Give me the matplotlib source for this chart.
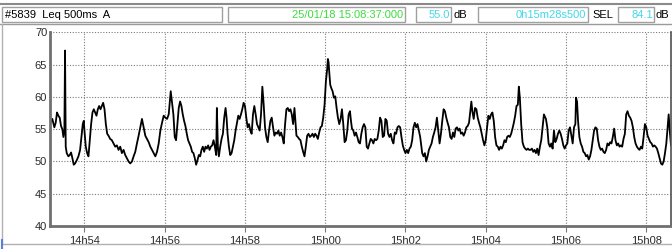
import numpy as np
import pandas as pd
import matplotlib
matplotlib.use("Agg")
import matplotlib.pyplot as plt
import matplotlib.dates as mdates
from matplotlib.patches import Rectangle
from matplotlib.lines import Line2D

# --- Dados (segundos após 14:53:00, nível Leq em dB) ---
t_sec = [
    8.5, 9, 12, 15, 17, 19, 21, 23, 25, 27, 28.5, 30, 31, 32, 33.5, 36, 38, 40, 42, 44, 46, 48.5,
    51, 53.5, 56, 57.5, 59, 60, 62, 64, 66, 68, 70, 72, 74, 76, 78, 80, 82, 84, 86, 88, 90, 92,
    94, 96, 98.5, 101, 103.5, 106, 108.5, 111, 113.5, 116, 118.5, 121, 123.5, 126, 128.5, 131,
    133.5, 136, 138.5, 141, 143.5, 146, 148.5, 151, 153.5, 156, 158.5, 161, 163.5, 166, 168.5,
    171, 173.5, 176, 178.5, 181, 183.5, 186, 189,
    193, 195, 197, 199, 201, 203, 205, 207, 209, 211, 213, 215, 217, 219, 221, 223, 225, 227,
    229, 231, 233, 235, 237, 239, 241, 243, 245, 247, 249, 251, 253, 255, 257, 258, 259.5, 261,
    263, 265, 267, 269, 271, 272.5, 274, 276, 278, 280, 282, 284, 286, 288, 290, 292, 294, 296,
    298, 300, 302, 304, 306, 308, 310, 312, 314, 316, 318, 320, 322, 324, 326, 328, 330, 332,
    334, 336, 338, 340, 342, 344, 346, 348, 350, 352, 354, 356, 358, 360, 362, 364, 366, 368,
    370, 372, 374,
    377, 379, 381, 383, 385, 387, 389, 391, 393, 395, 397, 399, 401, 403, 405, 407, 409, 411,
    413, 415, 417, 419, 421, 423, 424, 425, 426, 427.5, 429, 431, 433, 435, 437, 439, 441, 443,
    445, 447, 449, 451, 453, 455, 457, 458.5, 460, 462, 464, 466, 468, 470, 472, 474, 476, 478,
    480, 482, 484, 486, 488, 490, 492, 494, 496, 498, 500, 502, 504, 506, 508, 510, 512, 514,
    516, 518, 520, 522, 524, 526, 528, 530, 532, 534, 536, 538, 540, 542, 544, 546, 548, 550,
    552, 554, 556, 558, 560, 562,
    565, 567, 569, 571, 573, 575, 577, 579, 581, 583, 585, 587, 589, 591, 593, 595, 597, 599,
    601, 603, 605, 607, 609, 611, 613, 615, 617, 619, 621, 623, 625, 627, 629, 631, 633, 635,
    637, 638.5, 640, 642, 644, 646, 648, 650, 652, 654, 656, 658, 660, 662, 664, 666, 668, 670,
    672, 674, 676, 678, 680, 682, 684, 686, 688, 690, 692, 694, 696, 698, 700, 702, 704, 706,
    708, 709.5, 711, 713, 715, 717, 719, 721, 723, 725, 727, 729, 731, 733, 735, 737, 739, 741,
    743, 745, 747,
    750, 752, 754, 756, 758, 760, 762, 764, 766, 768, 770, 772, 774, 776, 778, 780, 782, 784,
    786, 788, 790, 792, 794, 795, 796.5, 798, 800, 802, 804, 806, 808, 810, 812, 814, 816, 818,
    820, 822, 824, 826, 828, 830, 832, 834, 836, 838, 840, 842, 844, 846, 848, 850, 852, 854,
    856, 858, 860, 862, 864, 866, 868, 870, 872, 874, 876, 878, 880, 882, 884, 886, 888, 890,
    892, 894, 896, 898, 900, 902, 904, 906, 908, 910, 912, 914, 916, 918, 920, 922, 924, 926,
    928, 930, 932, 933.5, 935, 937,
]
leq_db = [
    56.0, 56.0, 56.6, 55.3, 56.0, 57.6, 57.1, 56.8, 55.5, 55.0, 53.8, 54.8, 67.2, 52.3, 51.3, 50.8, 51.0, 51.4, 50.5, 49.5, 49.7, 50.2,
    50.8, 51.8, 54.3, 55.8, 56.3, 54.8, 52.3, 51.3, 50.8, 53.3, 55.8, 57.6, 58.1, 57.6, 57.1, 58.1, 58.6, 58.1, 58.6, 59.1, 58.1, 55.8,
    54.3, 54.0, 53.5, 53.3, 52.8, 52.3, 52.5, 51.8, 52.3, 51.3, 51.8, 51.0, 50.5, 50.0, 49.7, 50.0,
    50.8, 51.5, 52.8, 54.0, 55.3, 56.6, 55.3, 54.0, 53.5, 53.0, 52.3, 51.8, 51.3, 50.8, 51.5,
    52.8, 54.8, 56.0, 57.1, 56.8, 56.6, 57.3, 60.9,
    57.3, 53.8, 53.3, 55.8, 58.3, 59.3, 58.6, 57.3, 56.3, 55.5, 54.3, 53.3, 52.8, 52.3, 51.5, 51.3, 50.5, 49.5,
    50.2, 51.0, 50.8, 51.8, 52.3, 51.5, 52.3, 52.0, 52.5, 51.8, 52.3, 52.5, 53.3, 52.3, 51.0, 58.3, 52.3, 50.8,
    52.3, 53.5, 54.3, 56.8, 58.3, 56.8, 54.3, 52.3, 51.0, 51.3, 52.3, 53.3, 54.8, 56.0, 57.1, 56.6, 57.3, 58.1,
    59.1, 58.6, 56.8, 55.3, 55.8, 54.8, 54.3, 57.3, 58.6, 57.3, 55.8, 55.3, 54.8, 57.3, 61.6, 58.8, 55.3, 53.8,
    53.0, 54.8, 56.3, 56.8, 55.3, 54.0, 54.5, 54.3, 54.8, 54.0, 54.5, 53.8, 52.8, 55.8, 58.1, 58.3, 57.8, 58.1,
    57.3, 55.8, 58.3,
    54.0, 53.8, 53.5, 53.3, 52.3, 51.5, 50.8, 52.3, 54.0, 54.3, 53.8, 54.0, 54.3, 53.8, 54.3, 54.0, 53.5, 54.5,
    55.3, 55.5, 56.8, 58.8, 62.4, 64.4, 65.9, 65.4, 63.9, 61.9, 61.4, 60.9, 59.9, 60.1, 58.3, 56.8, 55.8, 56.6,
    58.1, 55.8, 53.0, 53.3, 54.8, 57.3, 57.8, 56.3, 55.1, 54.8, 54.0, 54.5, 53.8, 53.0, 52.8, 54.3, 55.3, 55.8,
    55.3, 52.3, 52.0, 52.8, 53.5, 53.3, 52.8, 53.5, 53.3, 53.5, 54.8, 56.8, 56.3, 53.8, 54.0, 56.6, 56.3, 54.3,
    53.8, 54.3, 53.3, 52.8, 54.5, 54.3, 55.3, 55.5, 55.3, 53.8, 52.5, 51.8, 51.3, 51.8, 51.3, 52.0, 52.3, 53.3,
    55.3, 56.0, 55.3, 55.8, 54.8, 53.8,
    51.3, 50.8, 51.3, 50.0, 50.8, 51.8, 52.3, 52.8, 53.8, 54.5, 55.3, 56.8, 54.8, 52.8, 54.3, 56.3, 58.1, 57.8,
    56.8, 56.0, 55.3, 53.8, 53.5, 54.5, 53.8, 55.1, 55.3, 54.8, 55.1, 54.3, 54.5, 54.0, 54.5, 55.3, 55.5, 56.0,
    57.8, 59.3, 57.8, 56.6, 58.3, 58.1, 56.8, 56.0, 55.3, 54.3, 53.3, 52.5, 53.3, 55.3, 57.1, 56.6, 57.3, 57.6,
    56.3, 53.8, 52.5, 52.3, 51.8, 52.3, 52.0, 52.5, 53.3, 53.0, 53.8, 54.0, 53.8, 54.3, 55.1, 56.0, 57.1, 58.6,
    58.8, 61.6, 59.9, 55.8, 53.0, 52.3, 52.0, 51.8, 52.0, 51.8, 51.8, 52.0, 51.5, 51.8, 51.3, 52.0, 51.0, 52.3,
    53.3, 55.3, 57.3,
    56.6, 55.3, 52.8, 52.3, 52.8, 52.0, 54.8, 53.0, 53.5, 54.3, 54.8, 54.3, 53.5, 52.5, 52.0, 52.5, 52.8, 54.8,
    55.3, 54.0, 52.8, 55.3, 55.8, 59.9, 59.3, 56.3, 53.8, 52.8, 52.3, 51.5, 51.3, 50.8, 51.0, 50.3, 50.8, 51.8,
    53.3, 54.8, 55.3, 55.1, 53.3, 52.3, 51.8, 52.0, 51.5, 51.3, 51.8, 52.8, 52.5, 53.0, 52.8, 53.8, 55.1, 53.3,
    52.5, 52.8, 52.3, 52.5, 52.3, 53.5, 54.3, 57.3, 57.8, 57.1, 56.8, 56.3, 55.3, 53.8, 52.8, 52.3, 52.0, 51.8,
    52.3, 52.0, 53.8, 55.8, 55.3, 54.0, 53.5, 53.0, 52.8, 52.3, 52.5, 52.3, 52.0, 51.3, 50.5, 49.7, 49.5, 50.0,
    51.3, 52.8, 55.3, 57.3, 55.0, 52.5,
]

y_ticks = [40, 45, 50, 55, 60, 65, 70]
start_time = "2018-01-25 14:53:00"

header_id = "#5839  Leq 500ms  A"
header_date = "25/01/18 15:08:37:000"
header_leq = "55.0"
header_dur = "0h15m28s500"
header_sel = "84.1"

W, H = 672, 249
def fx(x):
    return x / W
def fy(y):
    return 1 - y / H

times = pd.Timestamp(start_time) + pd.to_timedelta(t_sec, unit="s")

plt.rcParams['font.family'] = ['Liberation Sans', 'DejaVu Sans']

fig = plt.figure(figsize=(W / 100, H / 100), dpi=100)
fig.patch.set_facecolor("white")

# --- Cadre et bandeau ---
fig.add_artist(Line2D([0, 1], [fy(4.5), fy(4.5)], color="#8a8a8a", lw=1.5))
fig.add_artist(Line2D([0, 1], [fy(24), fy(24)], color="#9a9a9a", lw=1))
fig.add_artist(Line2D([fx(1.5), fx(1.5)], [fy(24), fy(244)], color="#b0b0b0", lw=1))
fig.add_artist(Line2D([fx(1.5), 1], [fy(244), fy(244)], color="#b0b0b0", lw=1))
fig.add_artist(Line2D([fx(1.5), fx(1.5)], [fy(240), fy(249)], color="#5a7de0", lw=1.5))

boxes = [(2, 222), (228, 405), (416, 451), (478, 588), (618, 654)]
for x0, x1 in boxes:
    fig.add_artist(Rectangle((fx(x0), fy(22)), fx(x1 - x0), 15 / H,
                             transform=fig.transFigure, facecolor="white",
                             edgecolor="#a0a0a0", lw=1))

fs = 8
fig.text(fx(5), fy(14.5), header_id, fontsize=fs, va="center", ha="left", color="black")
fig.text(fx(403), fy(14.5), header_date, fontsize=fs, va="center", ha="right", color="#3ddc3d")
fig.text(fx(450), fy(14.5), header_leq, fontsize=fs, va="center", ha="right", color="#40d8ea")
fig.text(fx(453), fy(14.5), "dB", fontsize=fs, va="center", ha="left", color="black")
fig.text(fx(586), fy(14.5), header_dur, fontsize=fs, va="center", ha="right", color="#40d8ea")
fig.text(fx(592), fy(14.5), "SEL", fontsize=fs, va="center", ha="left", color="black")
fig.text(fx(653), fy(14.5), header_sel, fontsize=fs, va="center", ha="right", color="#40d8ea")
fig.text(fx(656), fy(14.5), "dB", fontsize=fs, va="center", ha="left", color="black")

# --- Courbe ---
ax = fig.add_axes([fx(50), fy(226), fx(671 - 50), (226 - 32.5) / H])
ax.plot(times, leq_db, color="black", lw=1.3)

ax.set_ylim(40, 70)
ax.set_yticks(y_ticks)
ax.set_xlim(pd.Timestamp(start_time) + pd.Timedelta(seconds=8.5),
            pd.Timestamp(start_time) + pd.Timedelta(seconds=937))
ax.xaxis.set_major_locator(mdates.MinuteLocator(byminute=range(0, 60, 2)))
ax.xaxis.set_major_formatter(mdates.DateFormatter("%Hh%M"))

ax.grid(True, color="#7a7a7a", linestyle=(0, (1, 1.5)), lw=0.8)
ax.tick_params(axis="both", labelsize=fs, colors="#7a7a7a", labelcolor="#2a2a2a", length=4)
ax.tick_params(axis="y", length=0, pad=2)

for side in ["left", "bottom"]:
    ax.spines[side].set_color("#707070")
    ax.spines[side].set_linewidth(2)
ax.spines["right"].set_color("#505050")
ax.spines["right"].set_linewidth(1.2)
ax.spines["top"].set_visible(False)

plt.savefig("out.png", dpi=100)
